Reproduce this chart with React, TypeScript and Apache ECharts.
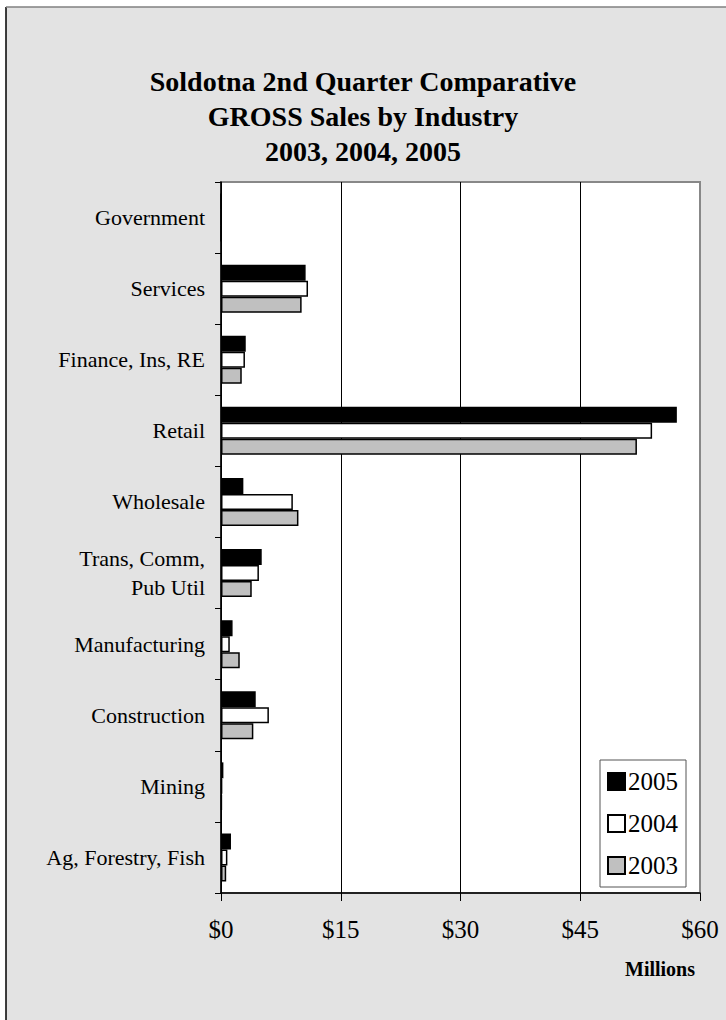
import React, { useEffect, useRef } from "react";
import * as echarts from "echarts";

const categories = [
  "Government",
  "Services",
  "Finance, Ins, RE",
  "Retail",
  "Wholesale",
  "Trans, Comm,\nPub Util",
  "Manufacturing",
  "Construction",
  "Mining",
  "Ag, Forestry, Fish",
];
const seriesNames = ["2005", "2004", "2003"];
const values2005 = [0, 10.6, 3.1, 57.1, 2.8, 5.1, 1.45, 4.35, 0.3, 1.25];
const values2004 = [0, 10.9, 3.0, 54.0, 9.0, 4.75, 1.1, 6.0, 0.15, 0.8];
const values2003 = [0, 10.1, 2.6, 52.1, 9.7, 3.85, 2.35, 4.05, 0.1, 0.65];
const xTicks = { min: 0, max: 60, interval: 15 };
const titleLines = [
  "Soldotna 2nd Quarter Comparative",
  "GROSS Sales by Industry",
  "2003, 2004, 2005",
];

const FONT = "'Liberation Serif', 'Times New Roman', serif";

export default function App() {
  const ref = useRef<HTMLDivElement>(null);
  useEffect(() => {
    if (!ref.current) return;
    const chart = echarts.init(ref.current, undefined, { renderer: "svg" });
    const barBase = {
      type: "bar" as const,
      barWidth: 16,
      barGap: "0%",
    };
    chart.setOption({
      animation: false,
      backgroundColor: "#ffffff",
      title: {
        text: titleLines.join("\n"),
        left: "center",
        top: 59,
        textStyle: {
          fontFamily: FONT,
          fontSize: 28,
          fontWeight: "bold",
          color: "#000",
          lineHeight: 35,
        },
      },
      graphic: [
        {
          type: "rect",
          z: -10,
          silent: true,
          shape: { x: 6, y: 7, width: 800, height: 1100 },
          style: { fill: "#e3e3e3", stroke: "none" },
        },
        {
          type: "line",
          z: -9,
          silent: true,
          shape: { x1: 6, y1: 7, x2: 6, y2: 1020 },
          style: { stroke: "#000", lineWidth: 1.5 },
        },
        {
          type: "line",
          z: -9,
          silent: true,
          shape: { x1: 6, y1: 7, x2: 726, y2: 7 },
          style: { stroke: "#808080", lineWidth: 1.5 },
        },
        {
          type: "text",
          left: 625,
          top: 959,
          style: {
            text: "Millions",
            fontFamily: FONT,
            fontSize: 20,
            fontWeight: "bold",
            fill: "#000",
          },
        },
      ],
      legend: {
        data: seriesNames,
        orient: "vertical",
        left: 600,
        top: 760,
        backgroundColor: "#ffffff",
        borderColor: "#555",
        borderWidth: 1,
        padding: [9, 8, 9, 7],
        itemWidth: 17,
        itemHeight: 17,
        itemGap: 17,
        icon: "rect",
        textStyle: {
          fontFamily: FONT,
          fontSize: 25,
          lineHeight: 25,
          color: "#000",
          padding: [0, 0, 0, -2],
        },
      },
      grid: {
        left: 221,
        right: 26,
        top: 182,
        bottom: 127,
        show: true,
        backgroundColor: "#ffffff",
        borderColor: "#888",
        borderWidth: 2,
      },
      xAxis: {
        type: "value",
        min: xTicks.min,
        max: xTicks.max,
        interval: xTicks.interval,
        axisLine: { show: true, lineStyle: { color: "#000", width: 1.5 } },
        axisTick: { show: true, length: 8, lineStyle: { color: "#000", width: 1 } },
        splitLine: {
          show: true,
          lineStyle: { color: ["#000", "#000", "#000", "#000", "#888"], width: 1 },
        },
        axisLabel: {
          formatter: "${value}",
          fontFamily: FONT,
          fontSize: 25,
          color: "#000",
          margin: 24,
        },
      },
      yAxis: {
        type: "category",
        data: categories,
        inverse: true,
        axisLine: { show: true, lineStyle: { color: "#000", width: 1.5 } },
        axisTick: { show: true, length: 6, lineStyle: { color: "#000", width: 1 } },
        axisLabel: {
          fontFamily: FONT,
          fontSize: 22,
          color: "#000",
          margin: 16,
          lineHeight: 29,
        },
      },
      series: [
        {
          ...barBase,
          name: seriesNames[0],
          data: values2005,
          itemStyle: { color: "#000000", borderColor: "#000", borderWidth: 1.5 },
        },
        {
          ...barBase,
          name: seriesNames[1],
          data: values2004,
          itemStyle: { color: "#ffffff", borderColor: "#000", borderWidth: 1.5 },
        },
        {
          ...barBase,
          name: seriesNames[2],
          data: values2003,
          itemStyle: { color: "#c0c0c0", borderColor: "#000", borderWidth: 1.5 },
        },
      ],
    });
    return () => chart.dispose();
  }, []);
  return (
    <div
      ref={ref}
      style={{ position: "fixed", left: 0, top: 0, width: 726, height: 1020 }}
    />
  );
}
